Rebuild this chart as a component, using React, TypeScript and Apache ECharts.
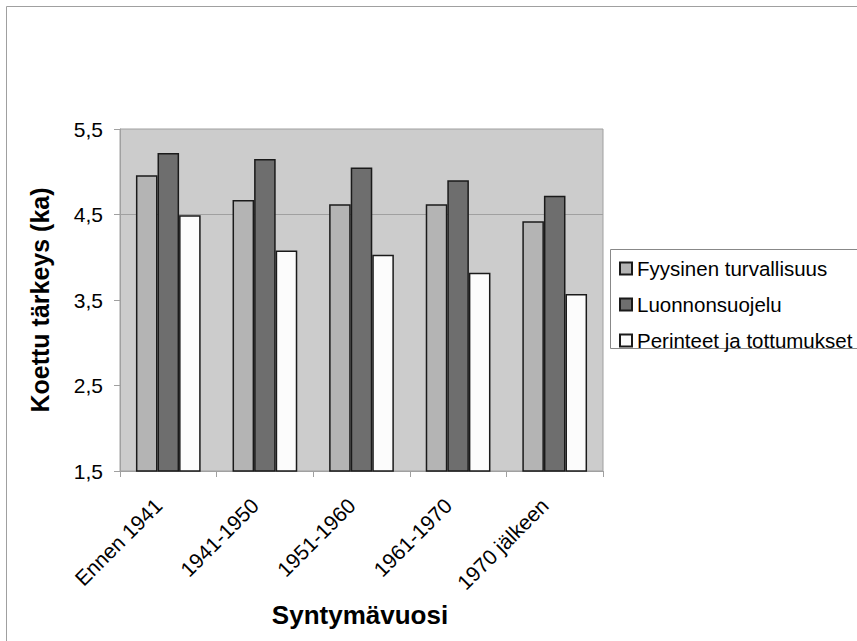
import React, { useEffect, useRef } from "react";
import * as echarts from "echarts";

const categories = ["Ennen 1941", "1941-1950", "1951-1960", "1961-1970", "1970 jälkeen"];
const seriesNames = ["Fyysinen turvallisuus", "Luonnonsuojelu", "Perinteet ja tottumukset"];
const fyysinen = [4.96, 4.67, 4.62, 4.62, 4.42];
const luonnonsuojelu = [5.22, 5.15, 5.05, 4.90, 4.72];
const perinteet = [4.49, 4.08, 4.03, 3.82, 3.57];
const yMin = 1.5;
const yMax = 5.5;
const yStep = 1;
const yTitle = "Koettu tärkeys (ka)";
const xTitle = "Syntymävuosi";

const colors = ["#b4b4b4", "#6e6e6e", "#fcfcfc"];
const gridColor = "#a0a0a0";
const none = "rgba(0,0,0,0)";

export default function App() {
  const ref = useRef<HTMLDivElement>(null);
  useEffect(() => {
    if (!ref.current) return;
    const chart = echarts.init(ref.current, null, { renderer: "svg" });
    const font = "'Liberation Sans', Arial, sans-serif";
    const values = [fyysinen, luonnonsuojelu, perinteet];
    chart.setOption({
      animation: false,
      backgroundColor: "#ffffff",
      textStyle: { fontFamily: font },
      grid: {
        left: 120,
        top: 129,
        width: 483,
        height: 342,
        show: true,
        backgroundColor: "#cccccc",
        borderColor: gridColor,
        borderWidth: 1,
      },
      xAxis: {
        type: "category",
        data: categories,
        axisLine: { show: true, lineStyle: { color: gridColor, width: 1 } },
        axisTick: { show: true, length: 6, lineStyle: { color: gridColor } },
        axisLabel: {
          rotate: 45,
          margin: 21,
          padding: [0, 14, 0, 0],
          fontSize: 21,
          color: "#000",
          fontFamily: font,
          interval: 0,
        },
      },
      yAxis: {
        type: "value",
        min: yMin,
        max: yMax,
        interval: yStep,
        axisLine: { show: true, lineStyle: { color: gridColor, width: 1 } },
        axisTick: { show: true, length: 6, lineStyle: { color: gridColor } },
        splitLine: {
          show: true,
          lineStyle: { color: [none, none, none, gridColor, none], width: 1 },
        },
        axisLabel: {
          fontSize: 21,
          color: "#000",
          fontFamily: font,
          margin: 17,
          formatter: (v: number) => v.toFixed(1).replace(".", ","),
        },
      },
      legend: {
        orient: "vertical",
        left: 619,
        top: 258,
        padding: 0,
        itemWidth: 12,
        itemHeight: 12,
        itemGap: 15,
        icon: "rect",
        textStyle: { fontSize: 20.5, lineHeight: 20, color: "#000", fontFamily: font },
        data: seriesNames,
        z: 10,
      },
      graphic: [
        {
          type: "rect",
          z: -10,
          silent: true,
          shape: { x: 6.5, y: 6.5, width: 900, height: 700 },
          style: { fill: "none", stroke: gridColor, lineWidth: 1 },
        },
        {
          type: "rect",
          z: 1,
          silent: true,
          shape: { x: 610.5, y: 249.5, width: 260, height: 99 },
          style: { fill: "#ffffff", stroke: "#888888", lineWidth: 1 },
        },
        {
          type: "text",
          x: 40,
          y: 300,
          rotation: Math.PI / 2,
          style: {
            text: yTitle,
            fontSize: 25,
            fontWeight: "bold",
            fontFamily: font,
            fill: "#000",
            align: "center",
            verticalAlign: "middle",
          },
        },
        {
          type: "text",
          x: 360,
          y: 615,
          style: {
            text: xTitle,
            fontSize: 26,
            fontWeight: "bold",
            fontFamily: font,
            fill: "#000",
            align: "center",
            verticalAlign: "middle",
          },
        },
      ],
      series: seriesNames.map((name, i) => ({
        name,
        type: "bar",
        data: values[i],
        barGap: "0%",
        barCategoryGap: "33%",
        itemStyle: { color: colors[i], borderColor: "#1a1a1a", borderWidth: 1.5 },
      })),
    });
    return () => chart.dispose();
  }, []);
  return (
    <div
      ref={ref}
      style={{ position: "fixed", left: 0, top: 0, width: 857, height: 641 }}
    />
  );
}
